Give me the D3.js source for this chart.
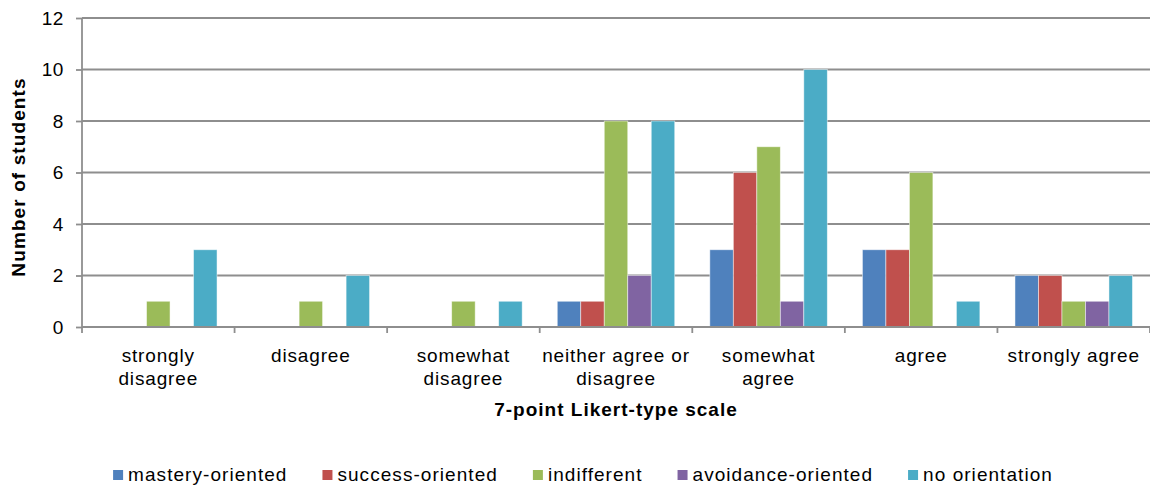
<!DOCTYPE html>
<html>
<head>
<meta charset="utf-8">
<script src="https://cdn.jsdelivr.net/npm/d3@7"></script>
<style>
  html, body { margin: 0; padding: 0; background: #fff; }
  svg { display: block; font-family: "Liberation Sans", Arial, sans-serif; }
</style>
</head>
<body>
<svg id="chart" width="1150" height="485"></svg>
<script>
// Likert response categories (x axis), two-line labels
const categories = ["strongly disagree", "disagree", "somewhat disagree", "neither agree or disagree", "somewhat agree", "agree", "strongly agree"];
const categoryLines = [["strongly", "disagree"], ["disagree"], ["somewhat", "disagree"], ["neither agree or", "disagree"], ["somewhat", "agree"], ["agree"], ["strongly agree"]];

// Goal-orientation groups
const seriesNames = ["mastery-oriented", "success-oriented", "indifferent", "avoidance-oriented", "no orientation"];
const seriesColors = ["#4F81BD", "#C0504D", "#9BBB59", "#8064A2", "#4BACC6"];

// Number of students per category, one array per group
const mastery     = [0, 0, 0, 1, 3, 3, 2];
const success     = [0, 0, 0, 1, 6, 3, 2];
const indifferent = [1, 1, 1, 8, 7, 6, 1];
const avoidance   = [0, 0, 0, 2, 1, 0, 1];
const noOrient    = [3, 2, 1, 8, 10, 1, 2];
const seriesValues = [mastery, success, indifferent, avoidance, noOrient];

const yTicks = [0, 2, 4, 6, 8, 10, 12];

const svg = d3.select("#chart");
const margin = { left: 82, right: 0, top: 18, bottom: 158 };
const W = 1150, H = 485;
const plotW = W - margin.left - margin.right;
const plotH = H - margin.top - margin.bottom;
const lineColor = "#8e8e8e";

const g = svg.append("g").attr("transform", `translate(${margin.left},${margin.top})`);

const x0 = d3.scaleBand().domain(categories).range([0, plotW]).padding(0);
const inset = x0.bandwidth() * 0.115;
const x1 = d3.scaleBand().domain(seriesNames).range([inset, x0.bandwidth() - inset]).padding(0);
const y = d3.scaleLinear().domain([0, 12]).range([plotH, 0]);

// horizontal gridlines
g.append("g")
  .selectAll("line")
  .data(yTicks)
  .join("line")
  .attr("x1", 0).attr("x2", plotW)
  .attr("y1", d => y(d)).attr("y2", d => y(d))
  .attr("stroke", lineColor).attr("stroke-width", 1.8);

// bars
const rows = categories.map((c, i) => ({ cat: c, vals: seriesNames.map((s, j) => ({ s, j, v: seriesValues[j][i] })) }));
g.append("g")
  .selectAll("g")
  .data(rows)
  .join("g")
  .attr("transform", d => `translate(${x0(d.cat)},0)`)
  .selectAll("rect")
  .data(d => d.vals.filter(e => e.v > 0))
  .join("rect")
  .attr("x", d => x1(d.s))
  .attr("width", x1.bandwidth())
  .attr("y", d => y(d.v))
  .attr("height", d => y(0) - y(d.v))
  .attr("fill", d => seriesColors[d.j])
  .attr("stroke", "rgba(255,255,255,0.6)")
  .attr("stroke-width", 0.8);

// y axis
const yAxis = g.append("g")
  .call(d3.axisLeft(y).tickValues(yTicks).tickSize(6).tickPadding(12).tickFormat(d3.format("d")));
yAxis.select(".domain").attr("stroke", lineColor).attr("stroke-width", 1.8).attr("d", `M0,${plotH}V0`);
yAxis.selectAll(".tick line").attr("stroke", lineColor).attr("stroke-width", 1.8);
yAxis.selectAll(".tick text")
  .attr("font-size", 19).attr("letter-spacing", 0.6)
  .attr("fill", "#000").attr("font-family", "Liberation Sans, Arial, sans-serif");

// x axis line at zero + category separator ticks
g.append("line")
  .attr("x1", 0).attr("x2", plotW).attr("y1", y(0)).attr("y2", y(0))
  .attr("stroke", lineColor).attr("stroke-width", 1.8);
g.append("g")
  .selectAll("line")
  .data(d3.range(categories.length + 1))
  .join("line")
  .attr("x1", i => i * x0.step()).attr("x2", i => i * x0.step())
  .attr("y1", y(0)).attr("y2", y(0) + 6)
  .attr("stroke", lineColor).attr("stroke-width", 1.8);

// category labels
const catLabels = g.append("g")
  .selectAll("text")
  .data(categories)
  .join("text")
  .attr("text-anchor", "middle")
  .attr("font-size", 19)
  .attr("letter-spacing", 0.85)
  .attr("fill", "#000")
  .attr("transform", d => `translate(${x0(d) + x0.bandwidth() / 2},${plotH + 35})`);
catLabels.selectAll("tspan")
  .data((d, i) => categoryLines[i])
  .join("tspan")
  .attr("x", 0)
  .attr("dy", (d, i) => i === 0 ? 0 : 23)
  .text(d => d);

// axis titles
g.append("text")
  .attr("x", plotW / 2).attr("y", plotH + 89)
  .attr("text-anchor", "middle")
  .attr("font-size", 19).attr("font-weight", "bold")
  .attr("letter-spacing", 1.0)
  .text("7-point Likert-type scale");

svg.append("text")
  .attr("transform", `translate(25,177) rotate(-90)`)
  .attr("text-anchor", "middle")
  .attr("font-size", 19).attr("font-weight", "bold")
  .attr("letter-spacing", 1.1)
  .text("Number of students");

// legend: swatch + label, laid out left to right and centred
const legend = svg.append("g").attr("transform", "translate(0,481)");
const items = legend.selectAll("g").data(seriesNames).join("g");
items.append("rect").attr("width", 10).attr("height", 10).attr("y", -11)
  .attr("fill", (d, i) => seriesColors[i]);
items.append("text").attr("x", 15).attr("y", 0)
  .attr("font-size", 19).attr("letter-spacing", 1.05).attr("fill", "#000")
  .text(d => d);
const widths = [];
items.each(function () { widths.push(this.getBBox().width); });
const gap = 35;
const total = d3.sum(widths) + gap * (widths.length - 1);
let cursor = 583 - total / 2;
items.attr("transform", (d, i) => {
  const t = `translate(${cursor},0)`;
  cursor += widths[i] + gap;
  return t;
});
</script>
</body>
</html>
